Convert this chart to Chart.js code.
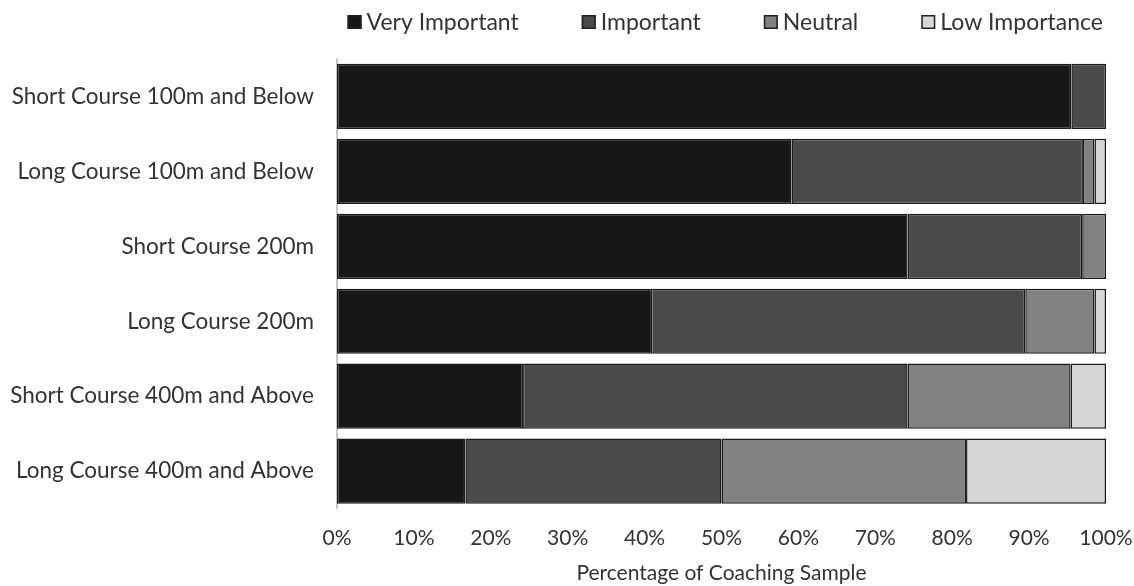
<!DOCTYPE html>
<html>
<head>
<meta charset="utf-8">
<script src="https://cdn.jsdelivr.net/npm/chart.js@4"></script>
<style>
  html, body { margin: 0; padding: 0; background: #fff; }
  #wrap { width: 1134px; height: 586px; }
</style>
</head>
<body>
<div id="wrap"><canvas id="chart"></canvas></div>
<script>
// categorias (de arriba a abajo)
const categorias = [
  "Short Course 100m and Below",
  "Long Course 100m and Below",
  "Short Course 200m",
  "Long Course 200m",
  "Short Course 400m and Above",
  "Long Course 400m and Above"
];
// porcentajes
const muyImportante = [95.5, 59.1, 74.2, 41.0, 24.2, 16.7];
const importante    = [4.5, 37.9, 22.7, 48.5, 50.0, 33.3];
const neutral       = [0, 1.5, 3.1, 9.0, 21.2, 31.8];
const pocaImport    = [0, 1.5, 0, 1.5, 4.6, 18.2];
const ticksX = [0, 10, 20, 30, 40, 50, 60, 70, 80, 90, 100];

const fuente = "Lato, 'Open Sans', sans-serif";
const colorTexto = "#333";

// leyenda dibujada a mano, alineada a la derecha del area del grafico
const leyendaPlugin = {
  id: "leyenda",
  afterDraw(chart) {
    const ctx = chart.ctx;
    const area = chart.chartArea;
    const caja = 14, hueco = 5, sep = 63;
    ctx.save();
    ctx.font = "23px " + fuente;
    ctx.textBaseline = "middle";
    const items = chart.data.datasets.map(ds => ({
      texto: ds.label, color: ds.backgroundColor, w: ctx.measureText(ds.label).width
    }));
    let total = 0;
    items.forEach((it, i) => { total += caja + hueco + it.w + (i ? sep : 0); });
    let x = area.right - 3 - total;
    const y = 22;
    items.forEach(it => {
      ctx.fillStyle = it.color;
      ctx.fillRect(x, y - caja / 2, caja, caja);
      ctx.strokeStyle = "#222";
      ctx.lineWidth = 1.5;
      ctx.strokeRect(x + 0.75, y - caja / 2 + 0.75, caja - 1.5, caja - 1.5);
      ctx.fillStyle = colorTexto;
      ctx.fillText(it.texto, x + caja + hueco, y + 1);
      x += caja + hueco + it.w + sep;
    });
    ctx.restore();
  }
};

const estiloBarra = { borderColor: "#1c1c1c", borderWidth: 1.5, borderSkipped: false,
  barPercentage: 0.87, categoryPercentage: 1 };

new Chart(document.getElementById("chart").getContext("2d"), {
  type: "bar",
  data: {
    labels: categorias,
    datasets: [
      { label: "Very Important", data: muyImportante, backgroundColor: "#171717", ...estiloBarra },
      { label: "Important", data: importante, backgroundColor: "#4a4a4a", ...estiloBarra },
      { label: "Neutral", data: neutral, backgroundColor: "#818181", ...estiloBarra },
      { label: "Low Importance", data: pocaImport, backgroundColor: "#d6d6d6", ...estiloBarra }
    ]
  },
  options: {
    indexAxis: "y",
    responsive: true,
    maintainAspectRatio: false,
    animation: false,
    layout: { padding: { top: 59, left: 0, right: 4, bottom: 0 } },
    plugins: {
      legend: { display: false },
      tooltip: { enabled: false }
    },
    scales: {
      x: {
        stacked: true,
        min: 0,
        max: 100,
        afterBuildTicks: axis => { axis.ticks = ticksX.map(v => ({ value: v })); },
        afterFit: axis => { axis.paddingRight = 28; axis.paddingLeft = 0; },
        grid: { display: false },
        border: { display: false },
        ticks: {
          padding: 9,
          color: colorTexto,
          font: { family: fuente, size: 21 },
          callback: v => v + "%"
        },
        title: {
          display: true,
          text: "Percentage of Coaching Sample",
          color: colorTexto,
          font: { family: fuente, size: 21 },
          padding: { top: 1, bottom: 0 }
        }
      },
      y: {
        stacked: true,
        afterFit: axis => { axis.width = 337; },
        grid: { display: false },
        border: { display: true, color: "#c8c8c8", width: 2 },
        ticks: {
          padding: 15,
          color: colorTexto,
          font: { family: fuente, size: 22.5 }
        }
      }
    }
  },
  plugins: [leyendaPlugin]
});
</script>
</body>
</html>
